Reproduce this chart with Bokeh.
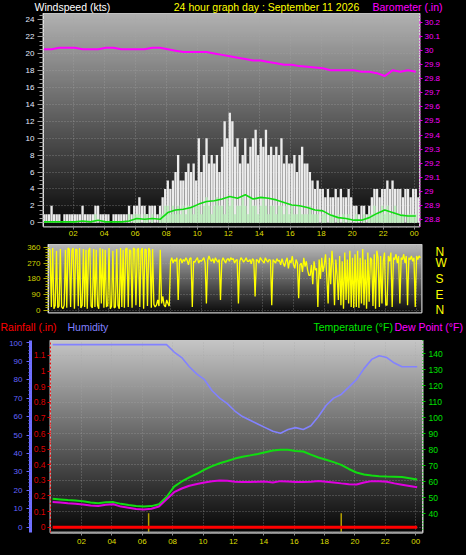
import numpy as np
from bokeh.plotting import figure
from bokeh.models import (Range1d, LinearAxis, FixedTicker, Label, GlobalInlineStyleSheet,
                          CustomJSTickFormatter)
from bokeh.layouts import column
from bokeh.embed import file_html
from bokeh.resources import INLINE

# ------------------------------------------------------------------ data
title_text = "24 hour graph day : September 11 2026"

# 10-minute wind samples
wind_hours = [round(0.1 + i / 6, 3) for i in range(146)]
gust_kts = [
    1, 1, 1, 2, 1, 1,
    1, 0, 1, 1, 1, 1,
    1, 1, 1, 2, 1, 1,
    1, 1, 2, 2, 1, 1,
    1, 1, 0, 1, 1, 1,
    1, 1, 1, 2, 1, 2,
    2, 3, 2, 2, 1, 2,
    2, 2, 1, 2, 3, 4,
    5, 4, 5, 6, 8, 5,
    5, 6, 7, 6, 7, 5,
    10, 6, 8, 10, 7, 8,
    7, 8, 6, 9, 12, 10,
    13, 12, 9, 10, 7, 8,
    10, 7, 9, 10, 11, 8,
    10, 9, 11, 8, 9, 8,
    9, 8, 10, 7, 8, 7,
    7, 8, 6, 8, 9, 7,
    7, 6, 5, 4, 5, 4,
    4, 3, 4, 3, 3, 4,
    3, 4, 3, 3, 4, 3,
    2, 2, 1, 2, 2, 1,
    2, 3, 4, 4, 3, 4,
    4, 5, 4, 5, 4, 4,
    4, 3, 4, 4, 3, 4,
    4, 3]
speed_kts = [
    0, 0, 0, 0, 0, 0,
    0, 0, 0, 0, 0, 0,
    0, 0, 0, 0, 0, 0,
    0, 0, 1, 0, 0, 0,
    0, 0, 0, 0, 0, 0,
    0, 0, 0, 1, 0, 1,
    1, 1, 0, 1, 1, 0,
    1, 0, 0, 1, 1, 2,
    2, 1, 2, 1, 2, 1,
    2, 1, 2, 2, 1, 2,
    2, 1, 2, 3, 2, 1,
    2, 3, 2, 2, 1, 3,
    2, 3, 1, 2, 2, 3,
    2, 1, 3, 2, 2, 1,
    2, 3, 2, 1, 2, 2,
    1, 2, 2, 1, 2, 1,
    2, 1, 1, 2, 1, 1,
    1, 2, 1, 1, 1, 0,
    1, 1, 0, 1, 1, 0,
    1, 0, 1, 0, 1, 0,
    0, 1, 0, 0, 1, 0,
    1, 1, 2, 1, 1, 2,
    1, 2, 1, 1, 2, 1,
    1, 1, 0, 1, 1, 1,
    1, 0]

# 5-minute wind direction samples
dir_hours = [round(0.1 + i / 12, 3) for i in range(291)]
direction_deg = [
    350, 345, 20, 355, 10, 30, 340, 15, 25, 350, 20, 10,
    30, 345, 15, 355, 350, 20, 340, 355, 10, 350, 345, 25,
    355, 15, 30, 350, 20, 345, 10, 340, 355, 25, 15, 350,
    20, 345, 30, 10, 355, 40, 350, 15, 345, 20, 30, 355,
    10, 25, 340, 15, 20, 350, 30, 10, 355, 20, 345, 15,
    350, 355, 20, 345, 340, 15, 355, 350, 30, 345, 355, 20,
    340, 355, 10, 350, 345, 25, 355, 340, 15, 350, 35, 20,
    30, 60, 25, 345, 40, 80, 30, 20, 60, 40, 25, 280,
    300, 270, 290, 280, 300, 60, 285, 295, 270, 290, 280, 300,
    285, 260, 295, 300, 20, 280, 275, 290, 300, 270, 285, 280,
    290, 300, 270, 40, 285, 310, 290, 280, 295, 270, 300, 285,
    275, 290, 60, 280, 300, 285, 270, 290, 295, 280, 300, 290,
    295, 270, 285, 290, 40, 280, 300, 290, 275, 285, 300, 280,
    280, 290, 265, 295, 285, 80, 290, 285, 270, 300, 290, 280,
    270, 300, 285, 275, 290, 285, 30, 290, 280, 270, 295, 280,
    285, 260, 295, 270, 250, 280, 300, 240, 285, 270, 310, 260,
    240, 290, 270, 70, 260, 270, 220, 300, 250, 280, 230, 200,
    200, 260, 150, 280, 230, 240, 20, 290, 180, 300, 220, 260,
    320, 190, 40, 300, 150, 340, 250, 30, 290, 200, 60, 310,
    30, 280, 10, 330, 60, 290, 40, 340, 20, 300, 15, 320,
    20, 340, 15, 300, 40, 350, 30, 290, 10, 330, 50, 300,
    290, 25, 320, 10, 340, 300, 20, 310, 40, 280, 330, 30,
    30, 310, 280, 330, 20, 300, 290, 320, 270, 310, 40, 300,
    290, 320, 270, 310, 30, 300, 290, 310, 280, 300, 20, 310,
    290, 310, 300]

# 30-minute samples
slow_hours = [round(0.1 + 0.5 * i, 2) for i in range(49)]
avg_speed_kts = [0.1, 0.1, 0.1, 0.1, 0.1, 0.2, 0.1, 0.3, 0.1, 0.1, 0.1, 0.2,
                 0.5, 0.4, 0.5, 0.4, 1.2, 1.5, 1.6, 1.8, 2.2, 2.5, 2.6, 2.8,
                 3.1, 2.9, 3.3, 2.8, 3.0, 2.9, 2.7, 2.4, 2.1, 2.0, 1.8, 1.5,
                 1.4, 0.9, 0.6, 0.5, 0.3, 0.3, 0.6, 1.1, 1.5, 1.2, 0.9, 0.8, 0.8]
barometer_in = [30.01, 30.01, 30.02, 30.02, 30.02, 30.01, 30.01, 30.01, 30.02, 30.02,
                30.01, 30.01, 30.01, 30.01, 30.02, 30.02, 30.01, 30.00, 29.99, 29.99,
                29.99, 29.99, 29.98, 29.97, 29.96, 29.95, 29.94, 29.93, 29.93, 29.92,
                29.91, 29.90, 29.90, 29.89, 29.885, 29.88, 29.875, 29.86, 29.86, 29.86,
                29.86, 29.85, 29.85, 29.84, 29.82, 29.86, 29.85, 29.86, 29.85]
humidity_pct = [99, 99, 99, 99, 99, 99, 99, 99, 99, 99, 99, 99, 99, 99, 99, 99,
                95, 92, 87, 83, 80, 74, 70, 67, 63, 60, 58, 56, 54, 52, 51, 53,
                54, 53, 55, 60, 66, 70, 72, 76, 80, 86, 91, 93, 92, 89, 87, 87, 87]
temperature_f = [49.4, 49.0, 48.6, 48.3, 47.8, 47.0, 46.6, 47.2, 47.3, 46.2, 45.5, 44.9,
                 44.6, 44.8, 46.0, 50.5, 57.0, 60.2, 62.8, 65.0, 67.6, 69.8, 71.6, 73.0,
                 74.5, 75.7, 76.5, 77.4, 78.5, 79.5, 80.0, 80.0, 79.3, 78.9, 77.0, 75.2,
                 73.8, 72.3, 70.6, 68.0, 65.8, 64.6, 63.9, 63.5, 63.3, 63.2, 63.0, 62.2, 61.4]
dewpoint_f = [47.3, 47.0, 46.6, 46.3, 45.8, 45.2, 44.8, 45.6, 46.0, 44.5, 43.8, 43.0,
              42.7, 43.1, 44.5, 49.0, 53.5, 55.8, 57.5, 58.6, 59.5, 60.3, 60.8, 60.6,
              60.0, 59.8, 59.8, 60.0, 60.1, 59.5, 60.4, 60.2, 59.9, 59.9, 60.0, 60.5,
              60.0, 59.6, 59.0, 58.5, 58.3, 59.5, 60.4, 60.4, 60.0, 59.0, 58.2, 57.4, 56.6]
rain_hours = [0.1, 6.1, 12.1, 18.1, 24.1]
rain_in = [0.0, 0.0, 0.0, 0.0, 0.0]
sun_event_hours = [6.42, 19.1]

hour_ticks = [2, 4, 6, 8, 10, 12, 14, 16, 18, 20, 22, 24]
wind_ticks = [0, 2, 4, 6, 8, 10, 12, 14, 16, 18, 20, 22, 24]
baro_ticks = [28.8, 28.9, 29.0, 29.1, 29.2, 29.3, 29.4, 29.5, 29.6, 29.7, 29.8, 29.9, 30.0, 30.1, 30.2]
dir_ticks = [0, 90, 180, 270, 360]
compass_labels = ["N", "E", "S", "W", "N"]
rain_ticks = [0, 0.1, 0.2, 0.3, 0.4, 0.5, 0.6, 0.7, 0.8, 0.9, 1.0, 1.1, 1.2]
hum_ticks = [0, 10, 20, 30, 40, 50, 60, 70, 80, 90, 100]
temp_ticks = [40, 50, 60, 70, 80, 90, 100, 110, 120, 130, 140]

# ------------------------------------------------------------------ helpers
FONT = "Liberation Sans"
hour_fmt = CustomJSTickFormatter(code="var h = Math.round(tick) % 24; return (h < 10 ? '0' : '') + h;")
num_fmt = CustomJSTickFormatter(code="return String(Math.round(tick * 10) / 10);")


def minor(start, stop, step):
    out, v = [], start
    while v <= stop + 1e-9:
        out.append(round(v, 4))
        v += step
    return out


def gradient(p, xr, yr, top, bottom):
    n = 96
    img = np.zeros((n, 1), dtype=np.uint32)
    v = img.view(dtype=np.uint8).reshape((n, 1, 4))
    for i in range(n):
        c = int(round(bottom + (top - bottom) * i / (n - 1)))
        v[i, 0] = (c, c, c, 255)
    r = p.image_rgba(image=[img], x=xr.start, y=yr.start, dw=xr.end - xr.start, dh=yr.end - yr.start)
    r.level = "image"


def style_axis(ax, color, size="8px", tick_color=None, out=3, standoff=2):
    ax.major_label_text_color = color
    ax.major_label_text_font = FONT
    ax.major_label_text_font_size = size
    ax.major_tick_line_color = tick_color or color
    ax.minor_tick_line_color = tick_color or color
    ax.major_tick_in = 0
    ax.major_tick_out = out
    ax.minor_tick_in = 0
    ax.minor_tick_out = max(out - 2, 1)
    ax.major_label_standoff = standoff


def header(height, items):
    h = figure(width=466, height=height, x_range=Range1d(0, 1), y_range=Range1d(0, 1),
               x_axis_type=None, y_axis_type=None, output_backend="svg", toolbar_location=None,
               min_border=0, outline_line_color=None, background_fill_color="black",
               border_fill_color="black", frame_align=False)
    h.xgrid.visible = False
    h.ygrid.visible = False
    for X, Y, text, color, size, align in items:
        h.add_layout(Label(x=X, y=height - Y, x_units="screen", y_units="screen", text=text,
                           text_color=color, text_font=FONT, text_font_size=size,
                           text_align=align, text_baseline="middle"))
    return h


def base_fig(h, xr, yr, l, r, t, b):
    p = figure(width=466, height=h, x_range=xr, y_range=yr, output_backend="svg",
               toolbar_location=None, min_border_left=l, min_border_right=r,
               min_border_top=t, min_border_bottom=b, background_fill_color="black",
               border_fill_color="black", outline_line_color="#c8c8c8", outline_line_width=2,
               frame_align=False)
    for g in (p.xgrid, p.ygrid):
        g.grid_line_color = "#a8a8a8"
        g.grid_line_alpha = 0.55
        g.grid_line_dash = "1 2"
    return p


# ------------------------------------------------------------------ header 1
h1 = header(13, [
    (34, 6.5, "Windspeed (kts)", "#ffffff", "10.5px", "left"),
    (266, 6.5, title_text, "#ffff00", "10.5px", "center"),
    (372, 6.5, "Barometer (.in)", "#ff00ff", "10.5px", "left"),
])

# ------------------------------------------------------------------ panel 1: wind + barometer
xr1 = Range1d(0.08, 24.34)
yr1 = Range1d(-0.45, 24.76)
p1 = base_fig(231, xr1, yr1, 43, 47, 0, 18)
p1.extra_y_ranges = {"baro": Range1d(28.75, 30.264)}
gradient(p1, xr1, yr1, 176, 8)

p1.vbar(x=wind_hours, top=gust_kts, bottom=0, width=0.15, color="#ececec", line_width=0)
p1.vbar(x=wind_hours, top=speed_kts, bottom=0, width=0.15, color="#bfeebf", line_width=0)
p1.line(slow_hours, avg_speed_kts, color="#10dd10", line_width=1.6)
p1.line(slow_hours, barometer_in, color="#ff00ff", line_width=2, y_range_name="baro")

p1.xaxis.ticker = FixedTicker(ticks=hour_ticks, minor_ticks=minor(0, 24, 0.5))
p1.xaxis.formatter = hour_fmt
style_axis(p1.xaxis[0], "#dede00", tick_color="#909090", out=3, standoff=1)
p1.xaxis.axis_line_color = "#909090"
p1.yaxis.ticker = FixedTicker(ticks=wind_ticks, minor_ticks=minor(0, 24.5, 0.5))
style_axis(p1.yaxis[0], "#e4ecff", tick_color="#9a9a9a", out=6, standoff=3)
p1.yaxis.axis_line_color = "#e0e0e0"
baro_axis = LinearAxis(y_range_name="baro", ticker=FixedTicker(ticks=baro_ticks, minor_ticks=minor(28.75, 30.26, 0.02)),
                       formatter=num_fmt)
style_axis(baro_axis, "#ff00ff", tick_color="#e000e0", out=3, standoff=2)
baro_axis.axis_line_color = "#d8d8d8"
p1.add_layout(baro_axis, "right")
p1.xgrid.ticker = FixedTicker(ticks=hour_ticks)
p1.ygrid.ticker = FixedTicker(ticks=wind_ticks)

# ------------------------------------------------------------------ panel 2: wind direction
xr2 = Range1d(0.08, 24.34)
yr2 = Range1d(-11.4, 375.4)
p2 = base_fig(74, xr2, yr2, 48, 45, 0, 6)
gradient(p2, xr2, yr2, 185, 12)
p2.line(dir_hours, direction_deg, color="#ffff00", line_width=1.3)
p2.xaxis.visible = False
p2.yaxis.ticker = FixedTicker(ticks=dir_ticks, minor_ticks=minor(0, 360, 15))
style_axis(p2.yaxis[0], "#d0d000", tick_color="#b0b000", out=5, standoff=3)
p2.yaxis.axis_line_color = "#e0e0e0"
compass = LinearAxis(ticker=FixedTicker(ticks=dir_ticks),
                     major_label_overrides=dict(zip(dir_ticks, compass_labels)))
style_axis(compass, "#ffff00", size="12px", out=0, standoff=14)
compass.major_tick_line_color = None
compass.minor_tick_line_color = None
compass.axis_line_color = None
p2.add_layout(compass, "right")
p2.xgrid.ticker = FixedTicker(ticks=hour_ticks)
p2.ygrid.ticker = FixedTicker(ticks=dir_ticks)

# ------------------------------------------------------------------ header 2
h3 = header(22, [
    (0, 8.7, "Rainfall (.in)", "#ff0000", "10.5px", "left"),
    (67, 8.7, "Humidity", "#8080ff", "10.5px", "left"),
    (313, 8.7, "Temperature (°F)", "#00e800", "10.5px", "left"),
    (394, 8.7, "Dew Point (°F)", "#ff00ff", "10.5px", "left"),
])

# ------------------------------------------------------------------ panel 3: temp / humidity / rain
xr3 = Range1d(-0.04, 24.45)
yr3 = Range1d(-0.034, 1.196)
p3 = base_fig(215, xr3, yr3, 50, 44, 0, 23)
p3.extra_y_ranges = {"hum": Range1d(-2.87, 101.25), "temp": Range1d(28.3, 148.3)}
gradient(p3, xr3, yr3, 196, 6)

p3.line(slow_hours, humidity_pct, color="#8282ff", line_width=1.6, y_range_name="hum")
p3.line(slow_hours, temperature_f, color="#10dd10", line_width=2, y_range_name="temp")
p3.line(slow_hours, dewpoint_f, color="#e000e0", line_width=2, y_range_name="temp")
p3.segment(x0=sun_event_hours, x1=sun_event_hours, y0=yr3.start, y1=0.09, color="#b4a000", line_width=1.5)
p3.line(rain_hours, rain_in, color="#ff0000", line_width=3)

p3.xaxis.ticker = FixedTicker(ticks=hour_ticks, minor_ticks=minor(0, 24.4, 0.5))
p3.xaxis.formatter = hour_fmt
style_axis(p3.xaxis[0], "#dede00", tick_color="#909090", out=3, standoff=3)
p3.xaxis.axis_line_color = "#a0a0a0"
p3.xaxis.axis_line_width = 2
p3.yaxis.ticker = FixedTicker(ticks=rain_ticks, minor_ticks=minor(0, 1.2, 0.05))
p3.yaxis.formatter = num_fmt
style_axis(p3.yaxis[0], "#dd0000", size="8.5px", tick_color="#dd0000", out=3, standoff=2)
p3.yaxis.axis_line_color = "#ee2020"
p3.yaxis.axis_line_dash = "2 2"
hum_axis = LinearAxis(y_range_name="hum", ticker=FixedTicker(ticks=hum_ticks, minor_ticks=minor(0, 100, 2)))
style_axis(hum_axis, "#6464ff", tick_color="#6464ff", out=4, standoff=4)
hum_axis.axis_line_color = "#7070ff"
hum_axis.axis_line_width = 3
p3.add_layout(hum_axis, "left")
temp_axis = LinearAxis(y_range_name="temp", ticker=FixedTicker(ticks=temp_ticks, minor_ticks=minor(30, 148, 2)))
style_axis(temp_axis, "#00e000", size="8.5px", tick_color="#00c000", out=3, standoff=3)
temp_axis.axis_line_color = "#c8c8c8"
p3.add_layout(temp_axis, "right")
p3.xgrid.ticker = FixedTicker(ticks=hour_ticks)
p3.ygrid.ticker = FixedTicker(ticks=rain_ticks)

page = column(h1, p1, p2, h3, p3, spacing=0,
              stylesheets=[GlobalInlineStyleSheet(css="html, body { margin: 0; padding: 0; background: #000; overflow: hidden; }")])
open("out.html", "w").write(file_html(page, INLINE))
